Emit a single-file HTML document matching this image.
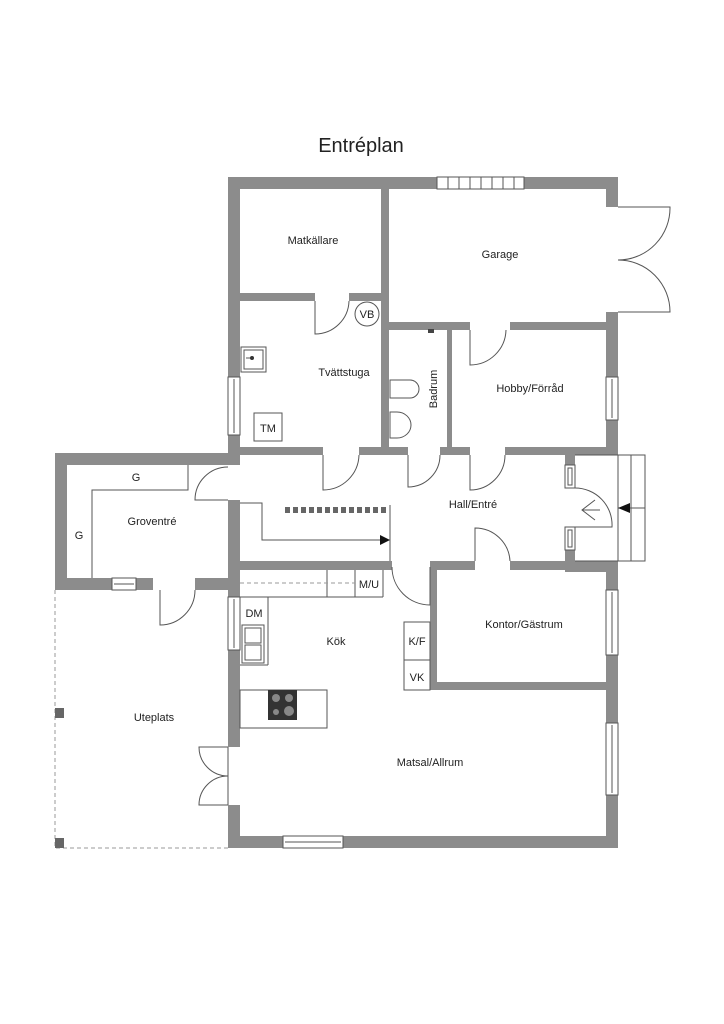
<!DOCTYPE html>
<html><head><meta charset="utf-8"><style>
html,body{margin:0;padding:0;background:#fff;}
svg{display:block;}
text{font-family:"Liberation Sans",sans-serif;fill:#222;}
</style></head><body>
<svg width="724" height="1024" viewBox="0 0 724 1024" xmlns="http://www.w3.org/2000/svg">
<rect width="724" height="1024" fill="#fff"/>
<text x="361" y="152" font-size="20" text-anchor="middle">Entréplan</text>

<g fill="#8c8c8c">
<rect x="228" y="177" width="209" height="12"/>
<rect x="524" y="177" width="94" height="12"/>
<rect x="228" y="177" width="12" height="200"/>
<rect x="228" y="435" width="12" height="30"/>
<rect x="606" y="177" width="12" height="30"/>
<rect x="606" y="312" width="12" height="65"/>
<rect x="606" y="420" width="12" height="35"/>
<rect x="381" y="189" width="8" height="266"/>
<rect x="240" y="293" width="75" height="8"/>
<rect x="349" y="293" width="32" height="8"/>
<rect x="389" y="322" width="81" height="8"/>
<rect x="510" y="322" width="96" height="8"/>
<rect x="447" y="330" width="5" height="125"/>
<rect x="228" y="447" width="95" height="8"/>
<rect x="359" y="447" width="49" height="8"/>
<rect x="440" y="447" width="30" height="8"/>
<rect x="505" y="447" width="113" height="8"/>
<rect x="565" y="455" width="10" height="10"/>
<rect x="565" y="550" width="10" height="11"/>
<rect x="565" y="561" width="53" height="11"/>
<rect x="55" y="453" width="173" height="12"/>
<rect x="55" y="453" width="12" height="137"/>
<rect x="55" y="578" width="57" height="12"/>
<rect x="136" y="578" width="17" height="12"/>
<rect x="195" y="578" width="45" height="12"/>
<rect x="228" y="500" width="12" height="97"/>
<rect x="240" y="561" width="152" height="9"/>
<rect x="430" y="561" width="45" height="9"/>
<rect x="510" y="561" width="96" height="9"/>
<rect x="430" y="561" width="7" height="129"/>
<rect x="430" y="682" width="188" height="8"/>
<rect x="606" y="561" width="12" height="29"/>
<rect x="606" y="655" width="12" height="68"/>
<rect x="606" y="795" width="12" height="53"/>
<rect x="228" y="650" width="12" height="97"/>
<rect x="228" y="805" width="12" height="43"/>
<rect x="228" y="836" width="55" height="12"/>
<rect x="343" y="836" width="275" height="12"/>
</g>

<g fill="none" stroke="#555" stroke-width="1">
<rect x="437" y="177" width="87" height="12"/>
<path d="M448 177v12M459 177v12M470 177v12M481 177v12M492 177v12M503 177v12M514 177v12"/>
<rect x="228" y="377" width="12" height="58"/><line x1="234" y1="379" x2="234" y2="433"/>
<rect x="606" y="377" width="12" height="43"/><line x1="612" y1="379" x2="612" y2="418"/>
<rect x="606" y="590" width="12" height="65"/><line x1="612" y1="592" x2="612" y2="653"/>
<rect x="606" y="723" width="12" height="72"/><line x1="612" y1="725" x2="612" y2="793"/>
<rect x="228" y="597" width="12" height="53"/><line x1="234" y1="599" x2="234" y2="648"/>
<rect x="283" y="836" width="60" height="12"/><line x1="285" y1="842" x2="341" y2="842"/>
<rect x="112" y="578" width="24" height="12"/><line x1="114" y1="584" x2="134" y2="584"/>
<rect x="565" y="465" width="10" height="23"/><rect x="568" y="468" width="4" height="17"/>
<rect x="565" y="527" width="10" height="23"/><rect x="568" y="530" width="4" height="17"/>
<path d="M618 207H670A52 52 0 0 1 618 260"/>
<path d="M618 312H670A52 52 0 0 0 618 260"/>
<path d="M315 301V334A34 34 0 0 0 349 301"/>
<path d="M470 330V365A36 36 0 0 0 506 330"/>
<path d="M323 455V490A36 36 0 0 0 359 455"/>
<path d="M408 455V487A32 32 0 0 0 440 455"/>
<path d="M470 455V490A35 35 0 0 0 505 455"/>
<path d="M228 500H195A33 33 0 0 1 228 467"/>
<path d="M160 590V625A35 35 0 0 0 195 590"/>
<path d="M430 567V605A38 38 0 0 1 392 567"/>
<path d="M475 561V528A35 35 0 0 1 510 561"/>
<path d="M228 747H199C199 763 212 776 228 776"/>
<path d="M228 805H199C199 789 212 776 228 776"/>
<line x1="228" y1="747" x2="228" y2="805"/>
<path d="M575 455H618V561H575"/>
<path d="M575 488A37 37 0 0 1 612 527H575"/>
<path d="M618 455H645V561H618M631 455V561"/>
<line x1="618" y1="508" x2="645" y2="508"/>
<path d="M595 500L582 510L595 520M582 510H600"/>
<path d="M188 465V490H92V578"/>
<path d="M55 590V848H228" stroke-dasharray="4 3" stroke="#999"/>
<path d="M240 503H262V540H385"/>
<line x1="390" y1="505" x2="390" y2="561"/>
<path d="M240 597H268V665M268 665H240"/>
<path d="M327 570V597M355 570V597M383 570V597M268 597H383"/>
<line x1="240" y1="583" x2="355" y2="583" stroke-dasharray="4 3" stroke="#999"/>
<rect x="240" y="690" width="87" height="38"/>
<rect x="404" y="622" width="26" height="68"/><line x1="404" y1="660" x2="430" y2="660"/>
<rect x="242" y="625" width="22" height="38"/><rect x="245" y="628" width="16" height="15"/><rect x="245" y="645" width="16" height="15"/>
<rect x="241" y="347" width="25" height="25"/><rect x="244" y="350" width="19" height="19"/>
<path d="M246 358H252"/>
<rect x="254" y="413" width="28" height="28"/>
<circle cx="367" cy="314" r="12"/>
<path d="M390 380H410A9 9 0 0 1 410 398H390Z"/>
<path d="M390 412H397A14 13 0 0 1 397 438H390Z"/>
</g>
<circle cx="252" cy="358" r="2" fill="#333"/>
<rect x="428" y="329" width="6" height="4" fill="#444"/>
<g fill="#666">
<rect x="285" y="507" width="5" height="6"/><rect x="293" y="507" width="5" height="6"/><rect x="301" y="507" width="5" height="6"/><rect x="309" y="507" width="5" height="6"/><rect x="317" y="507" width="5" height="6"/><rect x="325" y="507" width="5" height="6"/><rect x="333" y="507" width="5" height="6"/><rect x="341" y="507" width="5" height="6"/><rect x="349" y="507" width="5" height="6"/><rect x="357" y="507" width="5" height="6"/><rect x="365" y="507" width="5" height="6"/><rect x="373" y="507" width="5" height="6"/><rect x="381" y="507" width="5" height="6"/>
<rect x="55" y="708" width="9" height="10"/><rect x="55" y="838" width="9" height="10"/>
</g>
<path d="M380 535L390 540L380 545Z" fill="#111"/>
<path d="M630 503L618 508L630 513Z" fill="#111"/>
<rect x="268" y="690" width="29" height="30" fill="#333"/>
<g fill="#888"><circle cx="276" cy="698" r="4"/><circle cx="289" cy="698" r="4"/><circle cx="276" cy="712" r="3"/><circle cx="289" cy="711" r="5"/></g>

<g font-size="11" text-anchor="middle">
<text x="313" y="244">Matkällare</text>
<text x="500" y="258">Garage</text>
<text x="344" y="376">Tvättstuga</text>
<text x="530" y="392">Hobby/Förråd</text>
<text x="473" y="508">Hall/Entré</text>
<text x="152" y="525">Groventré</text>
<text x="336" y="645">Kök</text>
<text x="524" y="628">Kontor/Gästrum</text>
<text x="154" y="721">Uteplats</text>
<text x="430" y="766">Matsal/Allrum</text>
<text x="136" y="481">G</text>
<text x="79" y="539">G</text>
<text x="268" y="432">TM</text>
<text x="367" y="318">VB</text>
<text x="254" y="617">DM</text>
<text x="369" y="588">M/U</text>
<text x="417" y="645">K/F</text>
<text x="417" y="681">VK</text>
<text transform="translate(437 389) rotate(-90)">Badrum</text>
</g>
</svg>
</body></html>
